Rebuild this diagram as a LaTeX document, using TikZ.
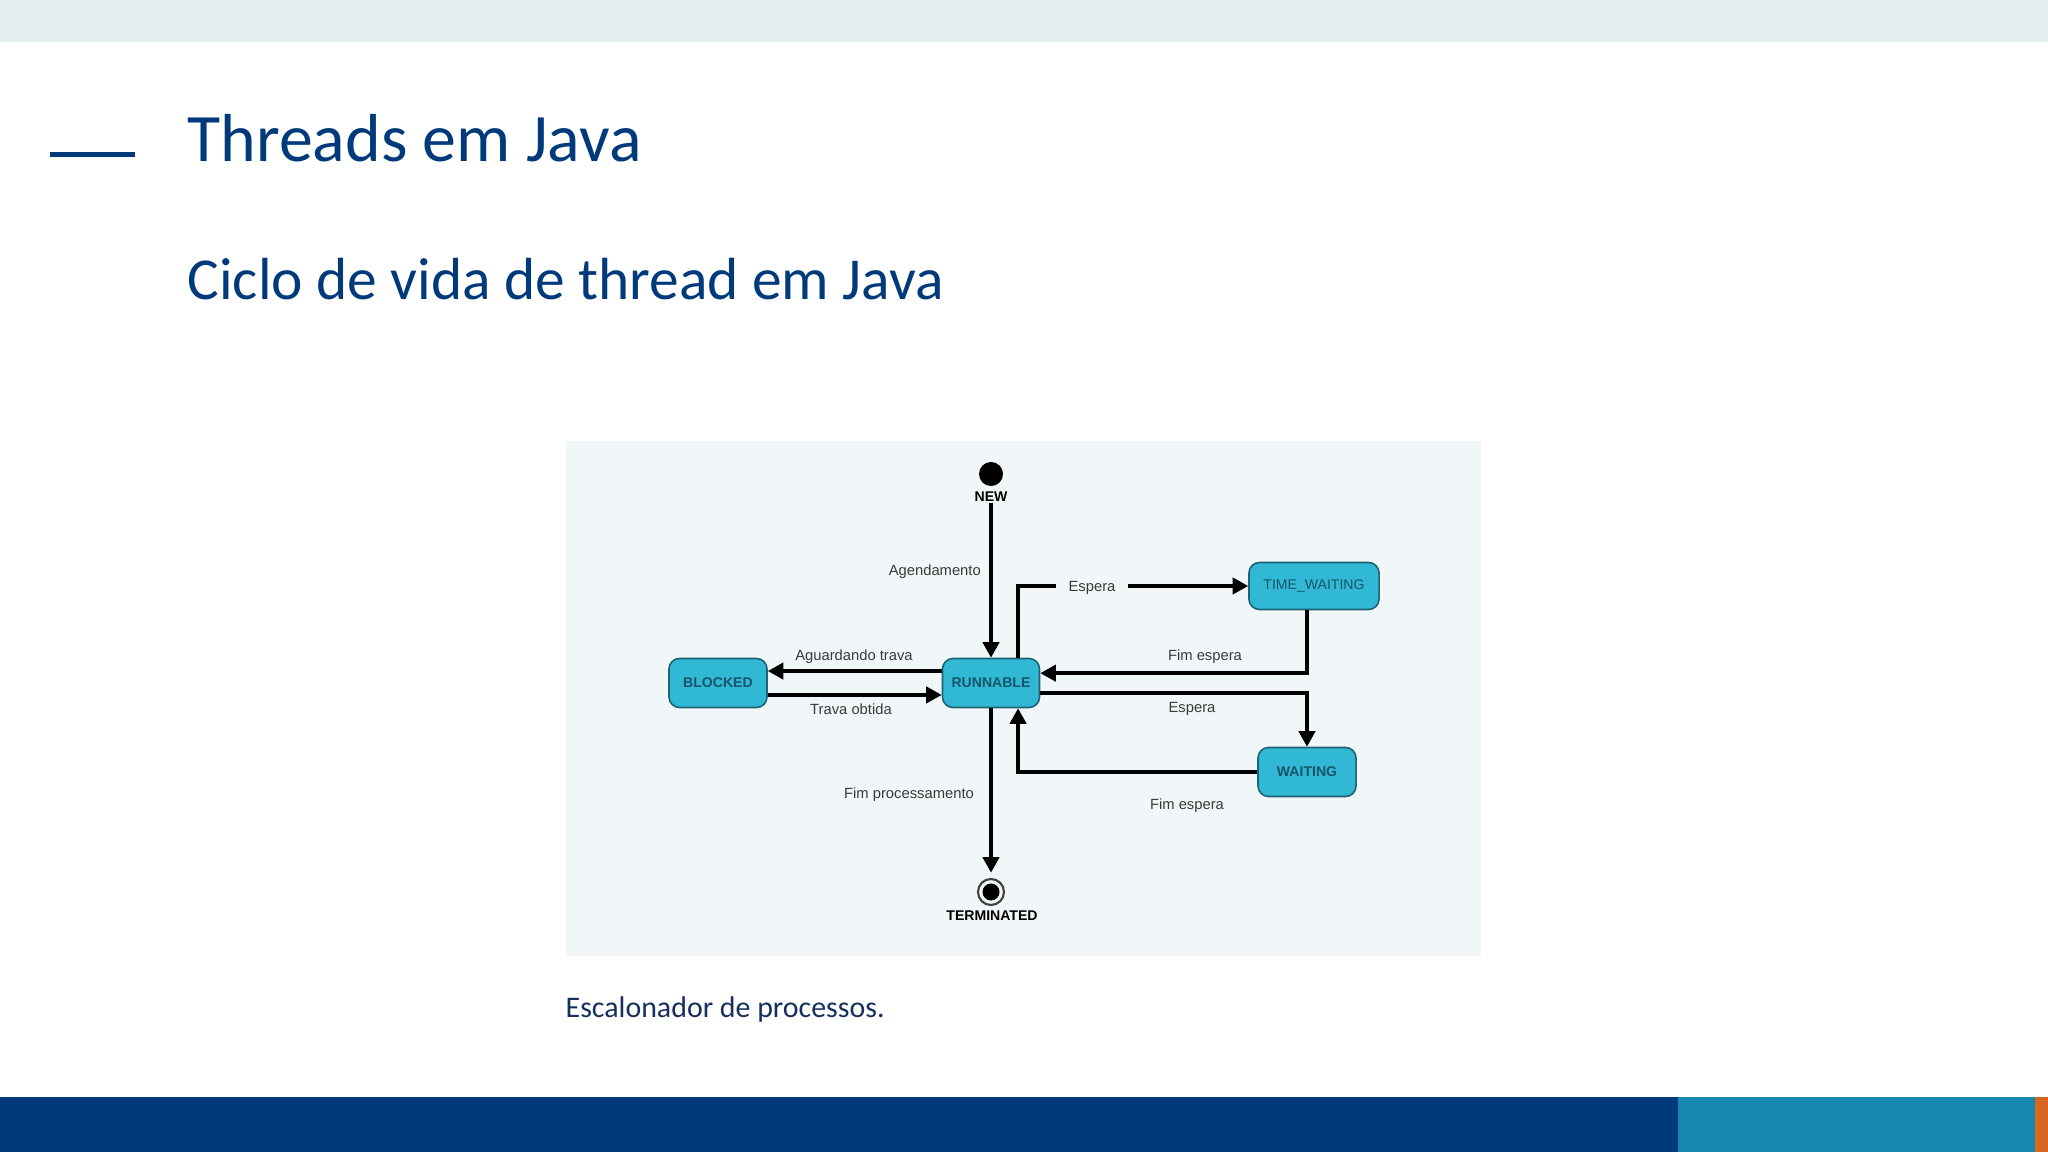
\documentclass[tikz,border=0pt]{standalone}
\usepackage{fontspec}
\setmainfont{Carlito}
\newfontfamily\diagfont{Liberation Sans}
\usetikzlibrary{arrows.meta}

\definecolor{slideblue}{HTML}{003A7A}
\definecolor{topband}{HTML}{E3ECEE}
\definecolor{panelbg}{HTML}{F1F6F9}
\definecolor{statefill}{HTML}{30B8D4}
\definecolor{stateline}{HTML}{1D6373}
\definecolor{statetext}{HTML}{17566A}
\definecolor{lbltext}{HTML}{3A3A3A}
\definecolor{barteal}{HTML}{1488AE}
\definecolor{barorange}{HTML}{D9661F}
\definecolor{captext}{HTML}{16305E}

\tikzset{
  statebox/.style={draw=stateline, fill=statefill, line width=0.45pt, rounded corners=3pt,
    text=statetext, font=\diagfont\bfseries\fontsize{4}{5}\selectfont,
    minimum height=0.49cm, inner sep=0pt},
  trans/.style={line width=1pt, -{Triangle[length=4.4pt,width=4.6pt]}},
  lbl/.style={text=lbltext, font=\diagfont\fontsize{4.2}{5}\selectfont, inner sep=1pt},
  endlbl/.style={font=\diagfont\bfseries\fontsize{4}{5}\selectfont, inner sep=0pt},
}

\begin{document}
\begin{tikzpicture}[x=0.01cm, y=-0.01cm]
  \useasboundingbox (0,0) rectangle (2048,1152);
  \fill[white] (0,0) rectangle (2048,1152);
  \fill[topband] (0,0) rectangle (2048,42);
  \fill[slideblue] (0,1097) rectangle (1678,1152);
  \fill[barteal] (1678,1097) rectangle (2035,1152);
  \fill[barorange] (2035,1097) rectangle (2048,1152);

  \fill[slideblue] (50,152) rectangle (135,157);
  \node[anchor=base west, inner sep=0, text=slideblue, font=\fontsize{19.3}{23}\selectfont]
    (title) at (187,162) {Threads em Java};
  \node[anchor=base west, inner sep=0, text=slideblue, font=\fontsize{16.9}{20}\selectfont]
    (subtitle) at (187,300) {Ciclo de vida de thread em Java};
  \node[anchor=base west, inner sep=0, text=captext, font=\fontsize{8.5}{10}\selectfont]
    (caption) at (565,1017) {Escalonador de processos.};

  \fill[panelbg] (566,441) rectangle (1481,956);

  \node[circle, fill=black, minimum size=0.24cm, inner sep=0pt] (new) at (991,474) {};
  \node[endlbl] (newlbl) at (991,497) {NEW};
  \node[statebox, minimum width=0.97cm] (run) at (991,683) {RUNNABLE};
  \node[statebox, minimum width=0.98cm] (blk) at (718,683) {BLOCKED};
  \node[statebox, minimum width=1.30cm, minimum height=0.47cm,
    font=\diagfont\fontsize{4}{5}\selectfont] (tw) at (1314,586) {TIME\_WAITING};
  \node[statebox, minimum width=0.98cm] (wt) at (1307,772) {WAITING};
  \node[circle, draw=black!75, line width=0.6pt, minimum size=0.26cm, inner sep=0pt] (term) at (991,892) {};
  \fill[black] (term.center) circle (0.085cm);
  \node[endlbl] (termlbl) at (992,916) {TERMINATED};

  \draw[trans] (newlbl.south) -- (run.north);
  \draw[trans] ([yshift=3.4pt]run.west) -- ([yshift=3.4pt]blk.east);
  \draw[trans] ([yshift=-3.4pt]blk.east) -- ([yshift=-3.4pt]run.west);
  \draw[trans] ([xshift=7.7pt]run.north) |- (tw.west);
  \draw[trans] ([xshift=-2pt]tw.south) |- ([yshift=2.8pt]run.east);
  \draw[trans] ([yshift=-2.8pt]run.east) -| (wt.north);
  \draw[trans] (wt.west) -| ([xshift=7.7pt]run.south);
  \draw[trans, shorten >=1.5pt] (run.south) -- (term.north);

  \node[lbl, anchor=east] (lagend) at (985,572) {Agendamento};
  \node[lbl] (laguard) at (854,657) {Aguardando trava};
  \node[lbl] (ltrava) at (851,709) {Trava obtida};
  \node[lbl, fill=panelbg, inner xsep=3.5pt] (lesp1) at (1092,588) {Espera};
  \node[lbl] (lfim1) at (1205,657) {Fim espera};
  \node[lbl] (lesp2) at (1192,709) {Espera};
  \node[lbl] (lfim2) at (1187,806) {Fim espera};
  \node[lbl] (lfimp) at (909,795) {Fim processamento};
\end{tikzpicture}
\end{document}
